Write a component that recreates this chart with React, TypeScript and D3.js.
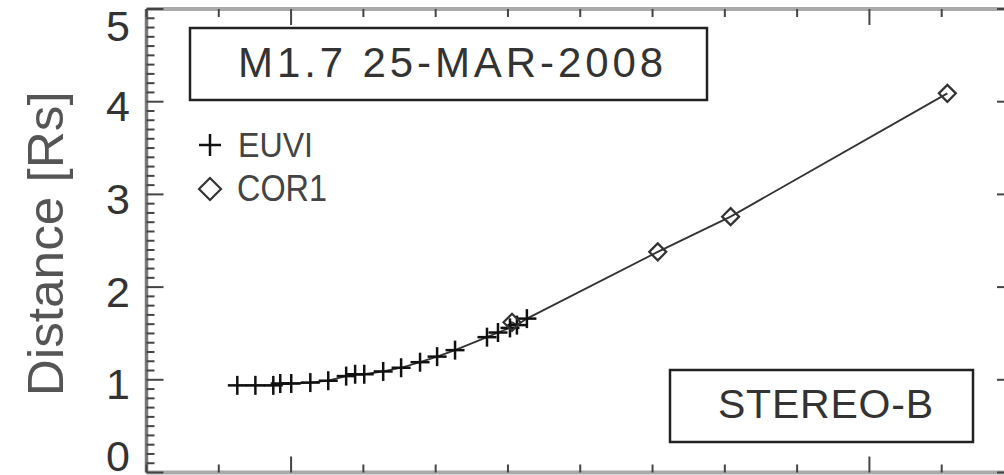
import React from "react";
import * as d3 from "d3";

// Time in minutes (relative), distance in solar radii
const euviTime = [6.28, 7.53, 8.77, 9.25, 10.01, 11.33, 12.57, 13.81, 14.43, 15.06, 16.37, 17.61, 18.92, 20.1, 21.34, 23.55, 24.31, 25.14, 25.62, 26.31];
const euviDist = [0.94, 0.94, 0.94, 0.96, 0.96, 0.97, 0.99, 1.04, 1.06, 1.06, 1.09, 1.13, 1.19, 1.25, 1.32, 1.46, 1.51, 1.56, 1.59, 1.66];
const cor1Time = [25.28, 35.36, 40.4, 55.39];
const cor1Dist = [1.62, 2.38, 2.76, 4.09];

const yTickLabels = [0, 1, 2, 3, 4, 5];
const xMajorTicks = [10, 50];
const titleText = "M1.7 25-MAR-2008";
const spacecraftText = "STEREO-B";
const legendLabels = ["EUVI", "COR1"];
const yAxisTitle = "Distance [Rs]";

const W = 1004;
const H = 475;
const left = 146.5;
const right = 1014;
const top = 9;
const bottom = 472.5;

const x = d3.scaleLinear().domain([0, 60]).range([left, right]);
const y = d3.scaleLinear().domain([0, 5]).range([bottom, top]);

const font = "'Liberation Sans', Arial, Helvetica, sans-serif";

function Cross({ cx, cy, r, sw = 2.5 }: { cx: number; cy: number; r: number; sw?: number }) {
  return (
    <g stroke="#111" strokeWidth={sw}>
      <line x1={cx - r} x2={cx + r} y1={cy} y2={cy} />
      <line x1={cx} x2={cx} y1={cy - r} y2={cy + r} />
    </g>
  );
}

function Diamond({ cx, cy, r }: { cx: number; cy: number; r: number }) {
  const d = `M${cx},${cy - r}L${cx + r},${cy}L${cx},${cy + r}L${cx - r},${cy}Z`;
  return <path d={d} fill="none" stroke="#333" strokeWidth={2.2} />;
}

export default function App() {
  const all = [
    ...euviTime.map((t, i) => ({ t, d: euviDist[i] })),
    ...cor1Time.map((t, i) => ({ t, d: cor1Dist[i] })),
  ].sort((a, b) => a.t - b.t);
  const line = d3
    .line<{ t: number; d: number }>()
    .x((p) => x(p.t))
    .y((p) => y(p.d));

  const yMinor = d3.range(0, 50.001, 1).map((v) => v / 10);
  const xMinor = d3.range(0, 61, 5);

  return (
    <svg width={W} height={H} style={{ position: "absolute", left: 0, top: 0, background: "#fff" }} fontFamily={font}>
      <rect x={0} y={0} width={W} height={H} fill="#fff" />
      {/* frame */}
      <line x1={left} x2={right} y1={top} y2={top} stroke="#aaa" strokeWidth={4} />
      <line x1={left} x2={right} y1={bottom} y2={bottom} stroke="#aaa" strokeWidth={4} />
      <line x1={left} x2={left} y1={top} y2={bottom} stroke="#777" strokeWidth={3.5} />
      <line x1={right} x2={right} y1={top} y2={bottom} stroke="#777" strokeWidth={3.5} />

      {/* y ticks */}
      {yMinor.map((v, i) => {
        const major = Math.abs(v - Math.round(v)) < 1e-6;
        const len = major ? 17 : 8;
        return (
          <g key={"yt" + i} stroke="#444" strokeWidth={2}>
            <line x1={left} x2={left + len} y1={y(v)} y2={y(v)} />
            <line x1={right} x2={right - len} y1={y(v)} y2={y(v)} />
          </g>
        );
      })}
      {/* x ticks */}
      {xMinor.map((v, i) => {
        const major = xMajorTicks.includes(v);
        const len = major ? 16 : 8;
        return (
          <g key={"xt" + i} stroke="#444" strokeWidth={2}>
            <line x1={x(v)} x2={x(v)} y1={top} y2={top + len} />
            <line x1={x(v)} x2={x(v)} y1={bottom} y2={bottom - len} />
          </g>
        );
      })}

      {/* y tick labels */}
      {yTickLabels.map((v) => {
        const cy = Math.max(top + 17, Math.min(bottom - 17, y(v) + 4));
        return (
          <text key={"yl" + v} x={130} y={cy} dy="0.36em" textAnchor="end" fontSize={43} fill="#333">
            {v}
          </text>
        );
      })}

      {/* y axis title */}
      <text
        transform={`translate(63,${(top + bottom) / 2 + 3}) rotate(-90)`}
        textAnchor="middle"
        fontSize={50}
        fill="#555"
        textLength={305}
        lengthAdjust="spacingAndGlyphs"
      >
        {yAxisTitle}
      </text>

      {/* data line */}
      <path d={line(all) || ""} fill="none" stroke="#333" strokeWidth={1.8} />

      {euviTime.map((t, i) => (
        <Cross key={"e" + i} cx={x(t)} cy={y(euviDist[i])} r={9.5} />
      ))}
      {cor1Time.map((t, i) => (
        <Diamond key={"c" + i} cx={x(t)} cy={y(cor1Dist[i])} r={8.5} />
      ))}

      {/* title box */}
      <rect x={190} y={28} width={517} height={72} fill="#fff" stroke="#222" strokeWidth={2.5} />
      <text x={238} y={77} fontSize={42} fill="#333" textLength={425} lengthAdjust="spacing">
        {titleText}
      </text>

      {/* legend */}
      <Cross cx={210} cy={145} r={11} sw={2.5} />
      <text x={238} y={157} fontSize={35} fill="#444" textLength={75} lengthAdjust="spacingAndGlyphs">
        {legendLabels[0]}
      </text>
      <Diamond cx={210} cy={189} r={11} />
      <text x={237} y={201} fontSize={37} fill="#444" textLength={90} lengthAdjust="spacingAndGlyphs">
        {legendLabels[1]}
      </text>

      {/* spacecraft box */}
      <rect x={670} y={370} width={303} height={72} fill="#fff" stroke="#222" strokeWidth={2.5} />
      <text x={718} y={418} fontSize={41} fill="#333" textLength={215} lengthAdjust="spacing">
        {spacecraftText}
      </text>
    </svg>
  );
}
